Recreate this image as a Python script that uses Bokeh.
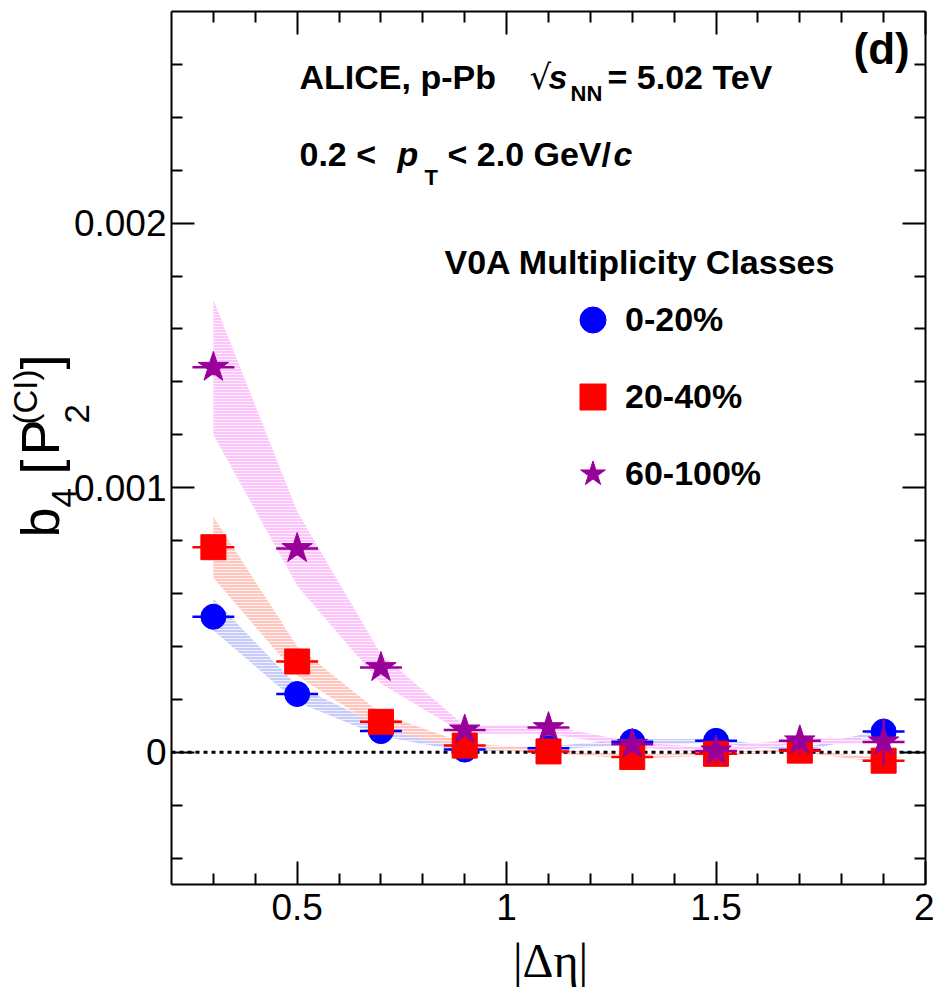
import math
import numpy as np
from bokeh.plotting import figure
from bokeh.models import (Range1d, LinearAxis, FixedTicker, Label,
                          Legend, LegendItem, ColumnDataSource)
from bokeh.embed import file_html
from bokeh.resources import INLINE

# ---------------- data ----------------
delta_eta = [0.3, 0.5, 0.7, 0.9, 1.1, 1.3, 1.5, 1.7, 1.9]
delta_eta_err = [0.05, 0.05, 0.05, 0.05, 0.05, 0.05, 0.05, 0.05, 0.05]

# V0A 0-20 %
b4_c0 = [0.000512, 0.000220, 0.000080, 0.000010, 0.000015, 0.000040, 0.000043, 0.000008, 0.000078]
b4_c0_stat = [0.000010, 0.000010, 0.000010, 0.000010, 0.000010, 0.000012, 0.000012, 0.000012, 0.000015]
b4_c0_sys_lo = [0.000460, 0.000190, 0.000060, 0.000003, 0.000008, 0.000030, 0.000035, 0.000003, 0.000070]
b4_c0_sys_hi = [0.000580, 0.000250, 0.000100, 0.000020, 0.000022, 0.000050, 0.000050, 0.000013, 0.000086]

# V0A 20-40 %
b4_c1 = [0.000775, 0.000343, 0.000115, 0.000025, 0.000003, -0.000018, -0.000006, 0.000006, -0.000032]
b4_c1_stat = [0.000012, 0.000012, 0.000012, 0.000012, 0.000012, 0.000014, 0.000014, 0.000014, 0.000018]
b4_c1_sys_lo = [0.000660, 0.000290, 0.000085, 0.000015, -0.000003, -0.000025, -0.000012, 0.000000, -0.000040]
b4_c1_sys_hi = [0.000890, 0.000400, 0.000145, 0.000035, 0.000010, -0.000010, 0.000000, 0.000012, -0.000024]

# V0A 60-100 %
b4_c2 = [0.001455, 0.000770, 0.000320, 0.000084, 0.000093, 0.000030, 0.000005, 0.000043, 0.000039]
b4_c2_stat = [0.000030, 0.000025, 0.000022, 0.000025, 0.000030, 0.000035, 0.000045, 0.000050, 0.000088]
b4_c2_sys_lo = [0.001200, 0.000630, 0.000260, 0.000070, 0.000070, 0.000020, -0.000005, 0.000033, 0.000030]
b4_c2_sys_hi = [0.001710, 0.000910, 0.000370, 0.000100, 0.000100, 0.000040, 0.000015, 0.000053, 0.000050]

class_labels = ["0-20%", "20-40%", "60-100%"]

x_major = [0.5, 1.0, 1.5, 2.0]
x_major_labels = ["0.5", "1", "1.5", "2"]
x_minor = [0.3, 0.4, 0.6, 0.7, 0.8, 0.9, 1.1, 1.2, 1.3, 1.4, 1.6, 1.7, 1.8, 1.9]
y_major = [0.0, 0.001, 0.002]
y_major_labels = ["0", "0.001", "0.002"]
y_minor = [-0.0004, -0.0002, 0.0002, 0.0004, 0.0006, 0.0008, 0.0012, 0.0014,
           0.0016, 0.0018, 0.0022, 0.0024, 0.0026]

# axis limits of the drawn (ROOT-style) frame
X_MIN, X_MAX = 0.2, 2.0
Y_MIN, Y_MAX = -0.0005, 0.0028

# ---------------- geometry ----------------
SANS = "Liberation Sans"
SERIF = "Liberation Serif"
W, H = 934, 999
BOX_L, BOX_R, BOX_T, BOX_B = 171.0, 925.0, 11.0, 884.0   # drawn frame, px
BASELINE_FIX = 0.4      # empirical shift of Bokeh's alphabetic baseline (em)

sx_per = (BOX_R - BOX_L) / (X_MAX - X_MIN)
sy_per = (BOX_B - BOX_T) / (Y_MAX - Y_MIN)
x_start = X_MIN - BOX_L / sx_per
x_end = X_MAX + (W - BOX_R) / sx_per
y_end = Y_MAX + BOX_T / sy_per
y_start = Y_MIN - (H - BOX_B) / sy_per

p = figure(width=W, height=H,
           x_range=Range1d(x_start, x_end), y_range=Range1d(y_start, y_end),
           output_backend="svg", toolbar_location=None, min_border=0)
p.grid.visible = False
p.outline_line_color = None
p.background_fill_color = "white"
p.border_fill_color = "white"


def style_axis(ax, ticker, overrides, show_labels):
    ax.ticker = ticker
    ax.axis_line_width = 2
    ax.axis_line_color = "black"
    ax.major_tick_in = 23
    ax.major_tick_out = 0
    ax.minor_tick_in = 11
    ax.minor_tick_out = 0
    ax.major_tick_line_width = 2
    ax.minor_tick_line_width = 2
    ax.major_label_overrides = overrides
    ax.major_label_text_font = SANS
    ax.major_label_text_color = "black"
    if show_labels:
        ax.major_label_text_font_size = "37px"
    else:
        ax.major_label_text_font_size = "0px"
        ax.major_label_standoff = 0


xticker = FixedTicker(ticks=x_major, minor_ticks=x_minor)
yticker = FixedTicker(ticks=y_major, minor_ticks=y_minor)
xover = {v: t for v, t in zip(x_major, x_major_labels)}
yover = {v: t for v, t in zip(y_major, y_major_labels)}
blank_x = {v: "" for v in x_major}
blank_y = {v: "" for v in y_major}

bottom = p.xaxis[0]
style_axis(bottom, xticker, xover, True)
bottom.fixed_location = Y_MIN
bottom.bounds = (X_MIN, X_MAX)
bottom.major_label_standoff = 9

left = p.yaxis[0]
style_axis(left, yticker, yover, True)
left.fixed_location = X_MIN
left.bounds = (Y_MIN, Y_MAX)
left.major_label_standoff = 5

top_axis = LinearAxis(fixed_location=Y_MAX, bounds=(X_MIN, X_MAX))
style_axis(top_axis, xticker, blank_x, False)
p.add_layout(top_axis, "above")
right_axis = LinearAxis(fixed_location=X_MAX, bounds=(Y_MIN, Y_MAX))
style_axis(right_axis, yticker, blank_y, False)
p.add_layout(right_axis, "right")

# ---------------- systematic bands ----------------
band_specs = [
    (b4_c0_sys_lo, b4_c0_sys_hi, "#c6cbf8"),
    (b4_c1_sys_lo, b4_c1_sys_hi, "#ffc6c0"),
    (b4_c2_sys_lo, b4_c2_sys_hi, "#fdc4fb"),
]
for lo, hi, col in band_specs:
    p.varea(x=delta_eta, y1=lo, y2=hi, fill_color=col, fill_alpha=1.0,
            hatch_pattern="horizontal_line", hatch_color="white",
            hatch_alpha=0.75, hatch_scale=3, hatch_weight=1)

# zero line across the frame
p.line(x=[X_MIN, X_MAX], y=[0.0, 0.0], line_color="black",
       line_width=3, line_dash="4 4")

# ---------------- data points ----------------
series = [
    (b4_c0, b4_c0_stat, "#0000ff", "circle", 25),
    (b4_c1, b4_c1_stat, "#ff0000", "square", 25),
    (b4_c2, b4_c2_stat, "#990099", "star", 32),
]
xarr = np.array(delta_eta)
xerr = np.array(delta_eta_err)
marker_renderers = []
for vals, stat, col, marker, size in series:
    y = np.array(vals)
    ye = np.array(stat)
    src = ColumnDataSource(dict(x=xarr, y=y, xl=xarr - xerr, xh=xarr + xerr,
                                yl=y - ye, yh=y + ye))
    r = p.scatter("x", "y", source=src, marker=marker, size=size,
                  fill_color=col, line_color=col, line_width=1)
    p.segment(x0="xl", x1="xh", y0="y", y1="y", source=src,
              line_color=col, line_width=2.5)
    p.segment(x0="x", x1="x", y0="yl", y1="yh", source=src,
              line_color=col, line_width=2.5)
    marker_renderers.append(r)

# ---------------- legend ----------------
legend = Legend(items=[LegendItem(label=lab, renderers=[r])
                       for lab, r in zip(class_labels, marker_renderers)],
                location=(560, H - 506), orientation="vertical",
                glyph_width=65, glyph_height=65, spacing=12,
                label_standoff=-12, padding=0, margin=0,
                label_text_font=SANS, label_text_font_style="bold",
                label_text_font_size="34px", label_text_color="black",
                border_line_alpha=0, background_fill_alpha=0)
p.add_layout(legend, "center")


# ---------------- texts ----------------
def add_text(text, px, py, size, style="bold", font=SANS, angle=0.0, align="left"):
    # move the anchor "up" (relative to the text) to correct the baseline
    shift = BASELINE_FIX * size
    ax = px - shift * math.sin(angle)
    ay = py - shift * math.cos(angle)
    p.add_layout(Label(x=ax, y=H - ay, x_units="screen", y_units="screen",
                       text=text, text_font=font, text_font_size=f"{size}px",
                       text_font_style=style, text_color="black",
                       text_align=align, text_baseline="alphabetic",
                       angle=angle))


add_text("ALICE, p-Pb", 299, 90, 34)
add_text("√", 529, 90, 34, style="normal", font="DejaVu Sans")
add_text("s", 548, 90, 34, style="bold italic")
add_text("NN", 570, 102, 22)
add_text("= 5.02 TeV", 607, 90, 34)

add_text("0.2 <", 299, 167, 34)
add_text("p", 397, 167, 34, style="bold italic")
add_text("T", 424, 186, 22)
add_text("< 2.0 GeV/", 447, 167, 34)
add_text("c", 613, 167, 34, style="bold italic")

add_text("(d)", 853, 66, 44)

add_text("V0A Multiplicity Classes", 444, 275, 34)

# x-axis title
add_text("|Δη|", 550, 979, 48, style="normal", font=SERIF, align="center")

# y-axis title  b_4 [P_2^(CI)]  (rotated)
up = math.pi / 2
add_text("b", 61, 537, 54, style="normal", angle=up)
add_text("4", 77, 507, 35, style="normal", angle=up)
add_text("[", 61, 474, 54, style="normal", angle=up)
add_text("P", 61, 455, 54, style="normal", angle=up)
add_text("2", 90, 423, 35, style="normal", angle=up)
add_text("(CI)", 38, 424, 33, style="normal", angle=up)
add_text("]", 61, 369, 54, style="normal", angle=up)

open("out.html", "w").write(file_html(p, INLINE))
